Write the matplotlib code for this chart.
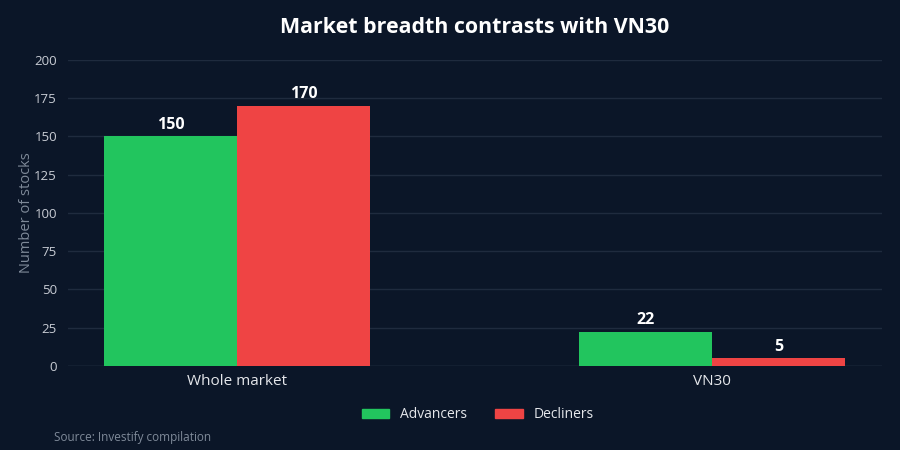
import numpy as np
import matplotlib
matplotlib.use("Agg")
from matplotlib import pyplot as plt
from matplotlib.patches import Patch

categories = ["Whole market", "VN30"]
series_names = ["Advancers", "Decliners"]
advancers = [150, 22]
decliners = [170, 5]
yticks = [0, 25, 50, 75, 100, 125, 150, 175, 200]

bg = "#0b1628"
green = "#22c55e"
red = "#ef4444"

plt.rcParams["font.family"] = ["Open Sans", "DejaVu Sans"]

fig = plt.figure(figsize=(9, 4.5), dpi=100, facecolor=bg)
ax = fig.add_axes([0.0756, 0.1867, 0.9044, 0.68])
ax.set_facecolor(bg)

x = np.arange(len(categories))
w = 0.28
b1 = ax.bar(x - w / 2, advancers, w, color=green, label=series_names[0], zorder=3)
b2 = ax.bar(x + w / 2, decliners, w, color=red, label=series_names[1], zorder=3)

for bars in (b1, b2):
    for r in bars:
        ax.text(r.get_x() + r.get_width() / 2, r.get_height() + 2.5, f"{int(r.get_height())}",
                ha="center", va="bottom", color="white", fontsize=11.5, fontweight="bold")

ax.set_xlim(-0.356, 1.358)
ax.set_ylim(0, 200)
ax.set_yticks(yticks)
ax.set_xticks(x)
ax.set_xticklabels(categories, fontsize=11, color="#e5e7eb")
ax.tick_params(axis="y", colors="#c8ccd4", labelsize=9.5, length=0, pad=8)
ax.tick_params(axis="x", length=0, pad=6)
ax.grid(axis="y", color="#1f2b3e", linewidth=1, zorder=0)
for s in ax.spines.values():
    s.set_visible(False)
ax.axhline(0, color="#2a3548", linewidth=1, zorder=2)
ax.set_ylabel("Number of stocks", color="#7f8a99", fontsize=10.5, labelpad=0)

fig.text(0.527, 0.938, "Market breadth contrasts with VN30", ha="center", va="center",
         color="white", fontsize=15.4, fontweight="bold")

handles = [Patch(color=green, label=series_names[0]), Patch(color=red, label=series_names[1])]
fig.legend(handles=handles, loc="center", bbox_to_anchor=(0.531, 0.078), ncol=2, frameon=False,
           fontsize=10, labelcolor="#e5e7eb", handlelength=2.0, handleheight=0.7,
           columnspacing=2.0, handletextpad=0.8)

fig.text(0.06, 0.028, "Source: Investify compilation", ha="left", va="center",
         color="#7f8a99", fontsize=8.5)

fig.savefig("out.png", dpi=100, facecolor=bg)
